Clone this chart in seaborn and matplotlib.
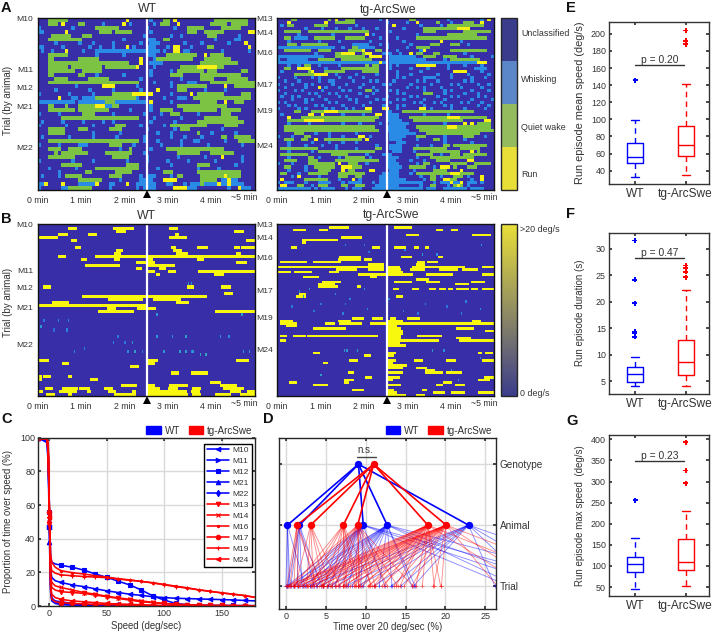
import numpy as np
import pandas as pd
import seaborn as sns
import matplotlib.pyplot as plt
from matplotlib.colors import ListedColormap, LinearSegmentedColormap
from matplotlib.colorbar import ColorbarBase
from matplotlib.patches import Patch

W, H = 713, 634
BLUE, RED = '#0000ff', '#ff0000'
INK = '#333333'

# behaviour state per trial: . unclassified, w whisking, q quiet wake, r run (right padded with .)
state_wt = [
    "...qqqqqq.................r......w...qq.r...........qqqqqqqqqq..",
    "...qqq.r....qq.....w.....r.w......w.qqq..r.........qqqqq.qqqqq..",
    "w.........w......qqqqqqq........w.......w...qqqqq.....qqqqqq....",
    "ww......r.........qqqq.qqqqq.....w..........qqq..qqqqqq.......rr",
    "....qqqqqq...qqq...............w.......w..w.......qqq......w....",
    "...qqqqqqqqqq............w......www..qq.............w.....ww.....",
    ".....w......w...w.....w.......w..www.......w....w.......w....r..",
    "ww.....w.......w..w...w...r.w...www...w.rr...w....qq..........r.",
    ".w..w...r....w...wwwwwwwwwwwwwwwwwww.w..rr.ww.........w.......w.",
    "...qqqqqq........w.......w......www...qqqqqqqqq..r.qqqq.........",
    "...qq.......qqqqqq............r...wqqqqqqqqqqq...qqqqqqqq.......",
    "...qqqqqqqqqqqqqqqqqqqqqqqq...r..wwww...........qqqqqqqqqqq.....",
    "...qqqqqq.qqqqqqqqq.qqqqqqqqqr....w.......qqqqqrrrrrrqq.........",
    "...qqqqqqqq..qqqqqq..............w.....w.qqqqqqqq.qqq.......qq..",
    "...qq.......qq...w.......w.......w.....qqqq.....qqqqqqqqqqqq....",
    ".....qqqq......qqqqqq.........w...........w.....qqqq....qqqqqq..",
    "...qqqqqqqqqqqqqqqqqqqqqqqqqqq....w....w....www....qqqqqqqqqqqqq",
    "...........w.......rrrr......w.........w.qqqqqqqqq.....r..qqqqqq",
    ".....w.........w......w.......w....r.....qqq.....w.....w........",
    "w........w......w.....qqqqqqrrrrrr.....w.....r.qqqqqqqq.....qqq.",
    "......r...ww.wwwwqqqqqqqqqqqqw.......w...www..qqqqqqqqqqqqqqqqq.",
    "wwwwwwwwwww.wwwwwwwwqqqwwwwwwwww.r.....w........qqqqq..r..qqq...",
    "...qq...q...qqqqqrrrwwqq.........w.......qqqqqqqqqqqqqqq........",
    "...qqqqqqqq.qqqqqqqqq......w.....w..qqqq...qqqqqqqqqq.qqqqqq....",
    "w.....w......qqqq.....w........w....w..qqq.....w......qqq.......",
    ".......qqqqqqqqqqqqqqqqqqqqqqq....w.......w......qqqqqqqqqq.....",
    ".w.....w.....w.....w..w..........w......w......qqqqqqqqqqqqqq...",
    "w.......w.......w......qqq....w......w.qqqqqqqqqqq.....qqqq.....",
    "...qqqqq....qqq......qqqq.......w.......w.qqq.........w.........",
    "...qqqqq........w.......w..........w...w.......q...w......w.....",
    ".w.......w......w......w.......w.......w...w....w.....qq..qqqqq.",
    "...qqqqqqqqqqqqqqqqqqqqqqqqqqq.w...w......w...ww.......w...qqqqq",
    "w.....w.....www......qqqq...w.......w.....w.......w.........w...",
    "...qqqq..qqqq...........w..q.....w....qqqqqqqqqqqqqqqqq.........",
    ".....q.qqqqqqqq.....qqqqqqqq...w.........qqqqqqq...qqqqqqq......",
    "...qqqqqqqq...........qqqqq.....w........w.......w....r.....w...",
    "w.........w.....w.........w.....w.....w.....w.......w.......w...",
    ".......qqqqqq.............qqqq.........w.......qqqq.......w.....",
    "...w.......w.....qqqqqqqqqqqqq.....w...........w.....w..........",
    "......w.......qq.......qqqqq.........qqq.......qqqqqqqqqqqqq....",
    ".w....w.qqqqq........qqqq.....w.www....w.qq.....qqqqqqqrqqqq....",
    "............qqqqqqq.....w.....wwww...rrrr.......qqqqq.wwrww.....",
    "wwr....r....wwwwwr...ww...r..wwwwww...ww...w.wwwqwwwwrwwrwwww...",
    "w......wwqqqqqqq.....w.......w.wwww.....rrrrwww.........w..rwww.",
]
state_tg = [
    "....qq.........q.r..qqq.......w........qq.........w.........w.r.",
    "...r..........r..qqqqqq.........w.....w..r.....q...w...qqq..r...",
    ".w.qq......qqqq........w..........r.......w.....w.qqqqqqqqqqq...",
    "........w....w...w...w...w...w.......w.....qqqqqqqqqqrrrr.......",
    "..qqqqq..qqqqqqqqqqqqqqqqqq......w.........qqqq........qqqqqqqq.",
    "......w.........w.........r.w............w........qqqqqqqqq......",
    "..qq.wwww..qqqqqq...qqqqqq....w....w.....qqqqqqqqqqqqqqqqqqqqq..",
    "...w........w.....w........w.........w..........r.....w.........",
    "...qqq.qqqqqqqq.......wwwww...w.w......w.....qqq...qqq..w.......",
    "wwwwwwwwwwwwwwwww..w..qqwwwww...w.....w..qqqq...................",
    "..qqqqqqqq..qqqq.....qqqqr...qq....w......wr.......qqqqqqqqqqq..",
    "...........w.....qqrrrr..qrr...www..w..r.qq...qq.......w........",
    "wwwwwwwwwwwwww...qqqqqqqqq.rrrr..wwwwwwww..qqqq..qqqq....w.....w",
    "w..wwwwww...qqqqq..qqqqqqqqq.....wwwwwwwwwww.....w.qqqqqqqqq....",
    "wwwwwwwwwwwwwwwwwwwwwwwwwwwwwwrw.wwwwwwwwwwwwwwwwwwwwwwwwwwrrr..",
    "...w..w.qq..w.....w.......q.qq...w.w.....rrrrrr...w....w....w...",
    "..qq..rrrr....w....qqqqqqqqqqq...w.....w....w.....w.......wwww..",
    ".w.......qr...qqqqqq.....qqqqq.....w......w.........rrrr....w...",
    ".....qqqqqqrrrr..w.....w.....w.....w...w.......w...w....w.....w.",
    "w....w....w.w.....w..w...w.........w.w.....wwww....w.....w...w..",
    "..w...w.....w..ww.....w....w.w....w......w.w...w.......w.w......",
    "w...w...w.w.....w...w....w.....w.w.....w.....w.....w.w.....w..w.",
    "..w.....w...r.w...w.....w...w.........w..w.w....w.....w.....w...",
    "w....w.w.....w.....w.w....qq.w...w.w.......w.....w.w.....w....w.",
    "..w......w.w...w.w......w...w......w.w.....qqq...w.....w...w....",
    ".w..w.w.....w.....w.w.....w.....w......w.w.....w...w.w.....w.w..",
    "....w...w.w...w......w.w.....w.w...w.w.....w.....w.......w.....w",
    "w.w.....w......w.w.....w...w.....w......w.w...w.w.....w.w...w...",
    "...w.w.....w.w.....w.....w.....w...w.w.....w.....w.w.......w..w.",
    "w.....w.w.....w.w...w.w...rr...rr..w......rr.w.....w...w.....w..",
    ".....qq...qqqqrrrrqqqqqqqqqq....ww...qqqqqqqqqqqqqqqqqqqqq......",
    ".w.......rr..r.....w.....w...rr.wwww.......w......w.............",
    "...r...qqqqqqqqqqqqqqqqqqqqqqq..wwww...qqqqqqqqqqqrrrrqqqqqqqq..",
    "...qqqqqrrrrrrqqqqqqqqqqqqqqq...wwwww...qqqqqqqqqqqqqqq......rr.",
    "...w.....w.........w....w.....w..wwwwww..........w.....r.r.qqqq..",
    "..qqqqqqqqqqqqqqqqqqqqqqqqqqq...wwwwww...qqqqqqqqqrrrqqqqqqqqqq.",
    "..qqqqqqqqqqqqqqqqqqqqqqqqqqqq..wwwwwww...qqqqqqqqqqqqqqqqqqqqqq",
    ".....qqq...w...w.......w.........wwwwwwww...qqqqqqqqqqqqqqqq....",
    "w...w...qq.....w...w....rr.w.....wwwww...qqq.....w.....qqq...w..",
    "..qqq..qq..r..qqqqqqqqqqq.r......wwww....w....qq.w.....w........",
    "...w......w....w...w...w...........www...........w.......w.......",
    "...w....w....w...w...........w...wwww....w...w...qq.qqqqqqqqqq..",
    ".qqqqqqqqqqq.....w.....w.....qq..wwww...qqqqqqqqqq....qqqqqq....",
    "...w......w.qqqqqqqqqqqqqqqqq.....www...w....qqqqqqqqq...r.q....",
    ".qqqqqqqq.......qqqqq.....w....www.......qqqqq..w..qqq.qqqqqqq..",
    "...w.....qq.w.....w.qqqqqq.w....wwww.....w...qqqqqqqqqqqqq......",
    "..qqqq...qqq.....qqqqqqqqqqqqq..www....w...w...qqqq.....rr......",
    "w...w....qqqqqqqq.r..qqq..w.....wwww.....w.qq......qqqqq..qqqqq.",
    "..qq....w..qqqqqq..rrrqqq.......wwwww..qqqqq..w.rrr.q...qqq.....",
    "...w....w...qqqq...r.qq....rr....www....w.....qqqq....r.........",
    ".qq...w..qqqqqq...qqqqqqqq.....wwwww...w.qqqqqqqqqqrrrqqqq......",
    "....w.r.....w.....qqq..qq.....wwwwww......w..qq.w...qqq.w...r...",
    ".r......qqqqqqq...w...r.w.....wwwwwwww.....w.qq..rrqq....w..r...",
    "w.www...w...wwww...w.wwww...w.wwwwwwwwwwwww...w.wwwrwwr.www.w...",
    ".rr...qq..w.qqq....qq..qqq...wwwwwww......w..qq...w.qrq.w.......",
    "wwwwwwwwww.w.wwww...w.www...wwwwwwwwwwwwwww.www..wwwwwww.wwww...",
]
state_rows_wt = [0.5, 13.5, 18, 23, 33.5]
state_rows_tg = [0.5, 5.2, 11.4, 22, 30.3, 41.7]
labels_wt = ['M10', 'M11', 'M12', 'M21', 'M22']
labels_tg = ['M13', 'M14', 'M16', 'M17', 'M19', 'M24']
state_names = ['Unclassified', 'Whisking', 'Quiet wake', 'Run']
minute_labels = ['0 min', '1 min', '2 min', '3 min', '4 min']

# speed above 20 deg/s, (trial, start s, stop s)
speed_wt = [
    (1, 105, 133), (1, 43, 52), (1, 183, 192), (2, 109, 121), (2, 273, 284), (3, 29, 40), (3, 70, 80), (3, 190, 195),
    (4, 1, 27), (4, 183, 204), (5, 46, 52), (5, 289, 298), (7, 52, 58), (7, 185, 190), (7, 220, 234), (7, 273, 279),
    (7, 282, 298), (8, 109, 116), (8, 188, 199), (9, 107, 114), (9, 192, 206), (9, 275, 280), (10, 29, 38), (10, 80, 298),
    (11, 107, 112), (11, 61, 67), (11, 220, 229), (11, 151, 158), (12, 137, 151), (12, 153, 160), (12, 275, 289),
    (13, 66, 112), (13, 151, 189), (14, 137, 142), (14, 169, 176), (15, 151, 160), (15, 181, 190), (15, 222, 257),
    (15, 259, 298), (16, 165, 169), (16, 245, 256), (20, 8, 17), (20, 254, 266), (20, 207, 214), (22, 258, 268),
    (23, 63, 233), (24, 178, 197), (24, 99, 144), (24, 160, 178), (25, 20, 43), (25, 192, 208), (26, 1, 151),
    (27, 96, 107), (27, 139, 162), (28, 84, 132), (28, 247, 298), (44, 1, 15), (44, 153, 165), (44, 275, 290),
    (45, 34, 43), (45, 153, 160), (46, 129, 139), (48, 185, 195), (48, 213, 234), (49, 1, 5), (49, 8, 17), (49, 43, 46),
    (50, 1, 5), (50, 73, 83), (51, 238, 252), (52, 116, 137), (52, 153, 160), (52, 183, 206), (52, 252, 275),
    (53, 11, 20), (53, 34, 54), (53, 59, 70), (53, 93, 103), (53, 153, 169), (53, 181, 192), (53, 215, 224), (53, 257, 284),
    (54, 1, 6), (54, 31, 52), (54, 68, 73), (54, 98, 107), (54, 130, 135), (54, 151, 181), (54, 183, 204), (54, 213, 222),
    (54, 266, 280), (54, 291, 298), (55, 13, 22), (55, 43, 47), (55, 107, 135), (55, 151, 206), (55, 215, 224),
    (55, 247, 266), (55, 280, 298),
]
speed_tg = [
    (1, 73, 98), (1, 163, 184), (2, 23, 39), (2, 59, 69), (2, 220, 229), (2, 241, 248), (4, 179, 194), (4, 271, 295),
    (5, 89, 117), (6, 34, 82), (7, 34, 39), (9, 20, 27), (9, 132, 141), (9, 163, 177), (9, 190, 195), (9, 204, 209),
    (13, 172, 184), (13, 87, 115), (13, 222, 229), (14, 85, 115), (14, 121, 131), (15, 4, 41), (15, 50, 87), (15, 195, 202),
    (15, 209, 220), (16, 126, 147), (16, 193, 202), (17, 0, 147), (17, 154, 168), (17, 186, 225), (17, 227, 259), (17, 285, 298),
    (18, 82, 108), (18, 126, 147), (18, 154, 170), (18, 184, 202), (18, 225, 234), (18, 236, 248), (18, 257, 276),
    (19, 0, 18), (19, 25, 46), (19, 73, 85), (19, 154, 172), (20, 112, 151), (20, 154, 186), (20, 207, 243), (20, 285, 298),
    (21, 36, 57), (21, 128, 137), (22, 193, 209), (23, 62, 87), (23, 163, 184), (23, 207, 225), (23, 269, 287),
    (24, 57, 78), (24, 246, 264), (25, 57, 82), (25, 110, 115), (26, 160, 167), (26, 186, 195), (26, 211, 218), (26, 224, 232),
    (26, 236, 242), (26, 248, 255), (26, 257, 264), (26, 269, 276), (26, 285, 298), (28, 30, 39), (29, 27, 39), (29, 165, 172),
    (38, 104, 119), (38, 132, 145), (38, 156, 163), (38, 181, 197), (39, 4, 20), (39, 85, 101), (39, 151, 172), (39, 271, 280),
    (40, 4, 27), (40, 66, 78), (40, 87, 117), (40, 128, 149), (40, 154, 298), (41, 13, 27), (41, 154, 165), (42, 50, 94),
    (42, 154, 170), (42, 248, 271), (43, 154, 172), (43, 289, 298), (44, 154, 172), (45, 4, 13), (45, 23, 39), (45, 43, 138),
    (45, 154, 170), (45, 195, 227), (46, 248, 266), (46, 154, 170), (47, 4, 11), (47, 154, 223), (47, 252, 298), (48, 154, 168),
    (49, 154, 177), (52, 50, 59), (52, 154, 163), (52, 278, 282), (52, 289, 296), (53, 121, 129), (53, 154, 160),
    (55, 101, 110), (55, 154, 163), (55, 190, 200), (55, 234, 246), (55, 285, 298), (56, 64, 69), (56, 154, 158),
    (57, 154, 179), (58, 154, 172), (58, 193, 207), (59, 204, 216), (60, 98, 105), (60, 154, 172), (60, 204, 229), (60, 234, 255),
    (62, 123, 131), (62, 154, 168), (62, 287, 298), (63, 92, 105), (63, 154, 158), (63, 278, 292), (64, 16, 27), (64, 92, 98),
    (64, 230, 241), (65, 50, 69), (65, 154, 170), (65, 220, 229), (65, 246, 259), (67, 105, 119), (67, 154, 160), (67, 200, 207),
    (68, 154, 165), (68, 216, 230), (68, 241, 259), (68, 278, 298), (69, 154, 163), (69, 165, 177), (69, 193, 202),
]
# weak speed samples, (trial, second, deg/s)
faint_wt = [
    (31, 8, 6), (31, 28, 7), (31, 43, 7), (33, 5, 9), (34, 22, 5), (34, 40, 7), (36, 110, 6), (36, 164, 9), (36, 186, 8),
    (36, 205, 10), (36, 252, 8), (36, 265, 8), (38, 105, 7), (38, 120, 6), (38, 131, 9), (41, 50, 7), (41, 125, 8), (41, 215, 9),
    (41, 213, 7), (41, 285, 9), (41, 292, 9), (40, 65, 7), (41, 135, 10), (41, 145, 6), (41, 175, 9), (41, 196, 10), (41, 204, 10),
    (42, 225, 11), (42, 233, 11), (29, 165, 9), (29, 283, 10), (19, 209, 9), (19, 212, 9),
]
faint_tg = [
    (8, 95, 7), (8, 120, 6), (8, 283, 9), (10, 176, 7), (12, 200, 9), (12, 220, 8), (11, 127, 6), (26, 120, 8), (26, 45, 9),
    (27, 30, 7), (28, 80, 8), (29, 36, 9), (30, 100, 7), (30, 155, 8), (31, 260, 7), (32, 60, 6), (32, 95, 6), (32, 205, 7),
    (33, 20, 6), (33, 235, 6), (34, 125, 7), (34, 280, 8), (35, 50, 6), (35, 175, 6), (36, 90, 7), (36, 255, 7), (36, 195, 6),
    (51, 92, 9), (51, 96, 9), (51, 110, 10), (51, 215, 9), (51, 230, 8), (54, 280, 8), (59, 240, 9), (61, 60, 10), (63, 250, 9),
]

# time above speed curves, one list per animal
speed_bins = [-10, -2, -1, 0, 1, 2, 5, 10, 20, 30, 40, 50, 60, 70, 80, 90, 100, 110, 120, 130, 140, 150, 160, 170, 180]
marker_bins = [0, 3, 7, 8, 9, 10, 11, 12, 13, 14, 15, 16, 17, 18, 19, 20, 21, 22, 23]
curve_names = ['M10', 'M11', 'M12', 'M21', 'M22', 'M13', 'M14', 'M16', 'M17', 'M19', 'M24']
curve_markers = ['<', '>', 's', '^', 'd', 'v', 'x', '.', 'o', '+', '<']
curve_m10 = [100, 99, 88, 47, 22, 17, 15, 14, 12.5, 11.5, 10.2, 9, 8, 7, 6.3, 5.5, 5, 4.6, 4.4, 4.2, 4, 3.8, 3.6, 3.3, 3]
curve_m11 = [100, 98, 85, 47, 12, 5, 2.5, 1.5, 1, 0.7, 0.5, 0.4, 0.3, 0.2, 0.2, 0.1, 0.1, 0.1, 0.1, 0.1, 0.1, 0.1, 0, 0, 0]
curve_m12 = [100, 99, 90, 56, 30, 26, 25, 24.2, 23, 21.3, 19, 17, 14.7, 12.5, 9.5, 6, 3.5, 1.5, 0.8, 0.5, 0.4, 0.3, 0.3, 0.2, 0.2]
curve_m21 = [100, 97, 80, 38, 8, 3, 1.5, 0.8, 0.5, 0.3, 0.2, 0.2, 0.1, 0.1, 0.1, 0.1, 0.1, 0, 0, 0, 0, 0, 0, 0, 0]
curve_m22 = [100, 98, 84, 50, 10, 4, 3, 2.5, 1.5, 1, 0.7, 0.5, 0.4, 0.3, 0.2, 0.2, 0.1, 0.1, 0.1, 0, 0, 0, 0, 0, 0]
curve_m13 = [100, 99, 90, 49, 17, 11, 9.5, 8.5, 8, 7.5, 6.5, 5.5, 4.5, 3.5, 2.5, 2, 1.5, 1, 0.7, 0.5, 0.3, 0.3, 0.2, 0.2, 0.2]
curve_m14 = [100, 99, 90, 50, 20, 14, 12, 11, 9.5, 8, 7, 5.8, 4.8, 4, 3, 2.2, 1.5, 1, 0.7, 0.5, 0.4, 0.3, 0.2, 0.2, 0.1]
curve_m16 = [100, 99.5, 94, 53, 30, 26, 23, 21, 19.8, 19, 18, 17.2, 16.2, 15.5, 14.6, 13.8, 12.8, 11.8, 10.8, 9.6, 8.7, 7.8, 7, 6.2, 5]
curve_m17 = [100, 99, 88, 56, 10, 4, 2.5, 2, 1.5, 1.2, 1, 0.8, 0.6, 0.4, 0.3, 0.2, 0.2, 0.1, 0.1, 0.1, 0, 0, 0, 0, 0]
curve_m19 = [100, 99, 92, 52, 25, 21, 19.5, 18.5, 18, 17.5, 17.2, 16.8, 16, 15.3, 14.6, 13.7, 12.6, 11.5, 10.6, 9.6, 8.7, 7.8, 7, 6.2, 5]
curve_m24 = [100, 99, 88, 53, 12, 7, 5, 4, 3, 2.5, 2, 1.5, 1.2, 1, 0.7, 0.5, 0.3, 0.2, 0.2, 0.1, 0.1, 0.1, 0, 0, 0]
curves = [curve_m10, curve_m11, curve_m12, curve_m21, curve_m22, curve_m13, curve_m14, curve_m16, curve_m17, curve_m19, curve_m24]

# hierarchy in panel D: percent of time over 20 deg/s
genotype_wt, genotype_tg = 9.1, 11.0
animals_wt = [0.2, 1.7, 9.7, 12.7, 22.9]
animals_tg = [1.4, 3.1, 7.2, 9.0, 17.8, 20.1]
trials_wt = [
    [0.0, 0.3, 0.5, 2.4],
    [0.2, 0.6, 1.4, 2.0, 3.5, 4.4],
    [0.1, 0.9, 1.6, 2.5, 3.3, 3.9, 4.6, 5.3, 6.1, 7.8, 9.4, 12.4, 28, 33, 38],
    [0.2, 1.0, 2.1, 3.0, 3.8, 4.7, 5.8, 6.6, 7.2, 8.3, 9.7, 11.7, 13.3, 15.8, 16.2, 29, 34, 42],
    [3.0, 5.2, 7.5, 9.0, 11.0, 13.2, 14.4, 16.0, 26.2, 31, 36, 45],
]
trials_tg = [
    [0.1, 0.5, 1.0, 1.5, 3.9, 4.6],
    [1.2, 2.6, 3.5, 4.7, 5.5, 6.8],
    [1.0, 2.1, 3.2, 4.8, 5.8, 7.3, 7.6, 8.7, 9.2, 10.8],
    [0.4, 1.5, 2.8, 4.5, 5.2, 6.2, 7.2, 8.8, 9.0, 9.3, 10.6, 11.2, 12.7, 14.0, 15.9],
    [0.3, 1.0, 1.8, 2.6, 3.4, 4.4, 5.6, 6.5, 7.4, 8.5, 9.6, 10.4, 11.0, 12.3, 13.8, 14.3, 16.3, 17.1, 18.6, 19.4, 30, 37],
    [0.0, 0.6, 1.5, 2.3, 3.1, 4.2, 5.1, 6.3, 7.1, 8.0, 9.1, 10.3, 11.2, 12.0, 13.5, 14.8, 15.8, 18.5, 19.5, 26.5, 32, 40],
]

# five number summaries and outliers for panels E, F, G
mean_speed_wt, mean_speed_tg = [33, 49, 56, 72, 99], [35, 57, 70, 92, 141]
mean_out_wt, mean_out_tg = [146], [188, 192, 204]
duration_wt, duration_tg = [4.1, 4.9, 6.4, 7.7, 9.5], [4.1, 6.1, 8.6, 12.7, 22.2]
duration_out_wt, duration_out_tg = [13.4, 14.1, 14.3, 19.7, 24.1, 31.5], [24.6, 25.6, 26.4, 26.8]
max_speed_wt, max_speed_tg = [45, 85, 105, 122, 166], [53, 90, 110, 164, 231]
max_out_wt, max_out_tg = [256], [296, 326, 393]

sns.set_theme(style="ticks")
plt.rcParams['font.family'] = ['Liberation Sans', 'DejaVu Sans']
plt.rcParams['text.color'] = INK
plt.rcParams['axes.labelcolor'] = INK
plt.rcParams['xtick.color'] = INK
plt.rcParams['ytick.color'] = INK
plt.rcParams['axes.linewidth'] = 1

fig = plt.figure(figsize=(W / 100, H / 100), dpi=100)


def axes_px(x0, y0, x1, y1):
    return fig.add_axes([x0 / W, 1 - y1 / H, (x1 - x0) / W, (y1 - y0) / H])


def text_px(x, y, s, **kws):
    fig.text(x / W, 1 - y / H, s, va='center', **kws)


def finish_heat(ax, row_ticks, row_labels, title, title_x, title_y, n_cols, line_col):
    for s in ax.spines.values():
        s.set_visible(True)
        s.set_linewidth(1)
        s.set_color('#111111')
    ax.axvline(line_col, color='white', lw=1.6)
    ax.set_yticks(row_ticks, row_labels, rotation=0, fontsize=6.1)
    ax.set_xticks([n_cols * m / 5 for m in range(5)], minute_labels, rotation=0, fontsize=6.3)
    ax.tick_params(length=0)
    ax.tick_params(axis='x', pad=4)
    ax.tick_params(axis='y', pad=3)
    ax.plot(0.505, -0.024, marker='^', color='black', ms=6, mew=0, transform=ax.transAxes, clip_on=False)
    ax.text(0.955, -0.046, '~5 min', transform=ax.transAxes, ha='center', va='center', fontsize=6.3)
    ax.set_xlabel('')
    ax.set_ylabel('')
    text_px(title_x, title_y, title, ha='center', fontsize=8.8)


def state_matrix(rows):
    codes = {'.': 0, 'w': 1, 'q': 2, 'r': 3}
    return np.array([[codes[c] for c in row.ljust(64, '.')[:64]] for row in rows])


def speed_matrix(n_rows, runs, faint):
    mat = np.zeros((n_rows, 150))
    for row, start, stop in runs:
        mat[row, start // 2:stop // 2 + 1] = 20
    for row, sec, val in faint:
        mat[row, sec // 2] = val
    return mat


def top_legend(center_x):
    handles = [Patch(color=BLUE, label='WT'), Patch(color=RED, label='tg-ArcSwe')]
    fig.legend(handles=handles, loc='center', ncols=2, bbox_to_anchor=(center_x / W, 1 - 430.5 / H), frameon=False,
               fontsize=7.1, handlelength=1.45, handleheight=0.8, columnspacing=0.9, handletextpad=0.4,
               borderpad=0, borderaxespad=0)


state_cmap = ListedColormap(['#382fa8', '#2a8be6', '#7cc243', '#f8f114'])
speed_cmap = LinearSegmentedColormap.from_list('speed', ['#382fa8', '#2a7fe6', '#2fbfa8', '#f8f80f'])

# panel A
ax = axes_px(37.5, 18, 254.5, 190)
sns.heatmap(state_matrix(state_wt), cmap=state_cmap, vmin=0, vmax=3, cbar=False, ax=ax)
finish_heat(ax, state_rows_wt, labels_wt, 'WT', 147, 9, 64, 32.3)
ax = axes_px(277, 18, 494, 190)
sns.heatmap(state_matrix(state_tg), cmap=state_cmap, vmin=0, vmax=3, cbar=False, ax=ax)
finish_heat(ax, state_rows_tg, labels_tg, 'tg-ArcSwe', 388, 10, 64, 32.4)

# panel B
ax = axes_px(37.5, 224, 254.5, 396)
sns.heatmap(speed_matrix(56, speed_wt, faint_wt), cmap=speed_cmap, vmin=0, vmax=20, cbar=False, ax=ax)
finish_heat(ax, [0.5, 15.5, 21, 27.5, 39.5], labels_wt, 'WT', 146, 216, 150, 75.7)
ax = axes_px(277, 224, 494, 396)
sns.heatmap(speed_matrix(70, speed_tg, faint_tg), cmap=speed_cmap, vmin=0, vmax=20, cbar=False, ax=ax)
finish_heat(ax, [0.5, 6, 14, 27.5, 38.5, 51.5], labels_tg, 'tg-ArcSwe', 391, 215, 150, 75.7)

# colour keys
cax = axes_px(501, 18, 517, 190)
ColorbarBase(cax, cmap=ListedColormap(['#e8df38', '#95bb5f', '#5b87c8', '#3b3c8c']), ticks=[])
for name, y in zip(state_names, [34, 79, 127, 174]):
    text_px(521, y, name, fontsize=6.4)
cax = axes_px(501, 224, 517, 396)
ColorbarBase(cax, cmap=LinearSegmentedColormap.from_list('muted', ['#3b3c8c', '#e8df38']), ticks=[])
text_px(520, 229, '>20 deg/s', fontsize=6.4)
text_px(520, 394, '0 deg/s', fontsize=6.4)

text_px(8, 100, 'Trial (by animal)', rotation=90, ha='center', fontsize=7)
text_px(8, 302, 'Trial (by animal)', rotation=90, ha='center', fontsize=7)

# panel C
ax = axes_px(38, 437.7, 255, 606)
for name, marker, curve in zip(curve_names, curve_markers, curves):
    color = BLUE if name in labels_wt else RED
    sns.lineplot(x=speed_bins, y=curve, color=color, lw=1.15, marker=marker, markevery=marker_bins, ms=3.2,
                 markerfacecolor=color, markeredgecolor=color, markeredgewidth=0.8,
                 estimator=None, label=name, ax=ax)
ax.set_xlim(-10, 179)
ax.set_ylim(0, 100)
ax.set_xticks([0, 50, 100, 150])
ax.set_yticks([0, 20, 40, 60, 80, 100])
ax.grid(color='#d9d9d9', lw=1)
ax.tick_params(direction='in', top=True, right=True, length=2.5, labelsize=6.5, pad=2)
ax.set_xlabel('Speed (deg/sec)', fontsize=6.9, labelpad=2)
ax.set_ylabel('Proportion of time over speed (%)', fontsize=6.9)
ax.yaxis.set_label_coords(-0.117, 0.5)
leg = ax.legend(loc='upper right', bbox_to_anchor=(0.985, 0.965), fontsize=6, frameon=True, fancybox=False, framealpha=1,
                edgecolor='black', borderaxespad=0, labelspacing=0.38, handlelength=2.6, handletextpad=0.4, borderpad=0.35)
leg.get_frame().set_linewidth(1)

# panel D
ax = axes_px(278.7, 438, 495.7, 609)
for genotype, animals, trials, color in [(genotype_wt, animals_wt, trials_wt, BLUE), (genotype_tg, animals_tg, trials_tg, RED)]:
    for animal, trial_vals in zip(animals, trials):
        for trial in trial_vals:
            ax.plot([animal, trial], [1, 0], color=color, lw=0.65, alpha=0.45)
        ax.plot(trial_vals, [0] * len(trial_vals), ls='', marker='+', ms=3, mew=0.5, color=color, alpha=0.6)
        ax.plot([genotype, animal], [2, 1], color=color, lw=1.2)
    sns.scatterplot(x=animals + [genotype], y=[1] * len(animals) + [2], color=color, s=28, linewidth=0, zorder=4, ax=ax)
ax.set_xlim(-0.9, 26.3)
ax.set_ylim(-0.377, 2.43)
ax.set_xticks([0, 5, 10, 15, 20, 25])
ax.set_yticks([0, 1, 2])
ax.grid(color='#d9d9d9', lw=1)
ax.set_axisbelow(True)
ax.tick_params(direction='in', top=True, right=True, left=True, length=2.5, labelsize=6.5, pad=2, labelleft=False, labelright=True)
ax.tick_params(axis='y', labelsize=7.2, pad=3)
ax.set_yticklabels(['Trial', 'Animal', 'Genotype'])
ax.set_xlabel('Time over 20 deg/sec (%)', fontsize=6.9, labelpad=1)
ax.plot([8.9, 11.3], [2.12, 2.12], color='#444444', lw=1)
ax.text(10.0, 2.15, 'n.s.', ha='center', va='bottom', fontsize=7)

top_legend(199.5)
top_legend(439)


def plot_box(rect, wt, tg, out_wt, out_tg, ylim, yticks, ylabel, label_size, p_y, p_text):
    ax = axes_px(*rect)
    box = pd.DataFrame({'group': ['WT'] * 5 + ['tg-ArcSwe'] * 5, 'value': wt + tg})
    out = pd.DataFrame({'group': ['WT'] * len(out_wt) + ['tg-ArcSwe'] * len(out_tg), 'value': out_wt + out_tg})
    palette = {'WT': BLUE, 'tg-ArcSwe': RED}
    order = ['WT', 'tg-ArcSwe']
    sns.boxplot(data=box, x='group', y='value', hue='group', order=order, hue_order=order, palette=palette, fill=False,
                dodge=False, width=0.31, whis=(0, 100), linewidth=1, legend=False, whiskerprops={'linestyle': (0, (4, 3))}, ax=ax)
    sns.stripplot(data=out, x='group', y='value', hue='group', order=order, hue_order=order, palette=palette,
                  jitter=False, dodge=False, marker='P', size=3.6, linewidth=0, legend=False, ax=ax)
    ax.set_xlim(-0.51, 1.457)
    ax.set_ylim(*ylim)
    ax.set_yticks(yticks)
    ax.set_xlabel('')
    ax.set_ylabel(ylabel, fontsize=label_size)
    ax.yaxis.set_label_coords(-0.236, 0.5)
    ax.tick_params(direction='in', top=True, right=True, length=2.5, pad=2)
    ax.tick_params(axis='y', labelsize=6.4)
    ax.tick_params(axis='x', labelsize=8.6, pad=3)
    ax.plot([0, 0.96], [p_y, p_y], color='#333333', lw=1)
    ax.text(0.49, p_y, p_text, ha='center', va='bottom', fontsize=7.4)
    for s in ax.spines.values():
        s.set_linewidth(1)
        s.set_color('#333333')


plot_box((608.7, 22.3, 709, 183.7), mean_speed_wt, mean_speed_tg, mean_out_wt, mean_out_tg, (24.8, 213.5),
         list(range(40, 201, 20)), 'Run episode mean speed (deg/s)', 7.9, 163.8, 'p = 0.20')
plot_box((608.7, 232.7, 709, 393.7), duration_wt, duration_tg, duration_out_wt, duration_out_tg, (2.66, 33),
         [5, 10, 15, 20, 25, 30], 'Run episode duration (s)', 7, 28.3, 'p = 0.47')
plot_box((608.7, 434.7, 709, 596), max_speed_wt, max_speed_tg, max_out_wt, max_out_tg, (28.7, 411),
         [50, 100, 150, 200, 250, 300, 350, 400], 'Run episode max speed  (deg/s)', 7, 348, 'p = 0.23')

# panel letters
for letter, x, y in [('A', 1, 8), ('B', 1, 219), ('C', 1, 419), ('D', 263, 419), ('E', 566, 8), ('F', 566, 214), ('G', 566, 421)]:
    text_px(x, y, letter, fontsize=10.5, fontweight='bold', color='#111111')

fig.savefig('out.png', dpi=100)
